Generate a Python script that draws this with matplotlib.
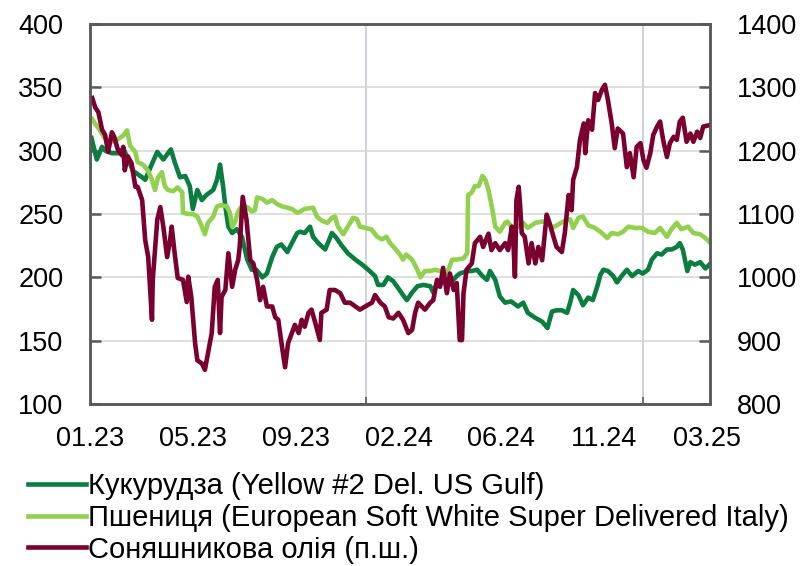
import numpy as np
import pandas as pd
import matplotlib
matplotlib.use("Agg")
import matplotlib.pyplot as plt


CORN_COLOR = "#0b7d41"
WHEAT_COLOR = "#92d050"
OIL_COLOR = "#7a0030"

corn_dates = [
    "2023-01-03", "2023-01-10", "2023-01-17", "2023-01-21", "2023-01-30", "2023-02-08", "2023-02-14",
    "2023-02-27", "2023-03-11", "2023-03-15", "2023-03-25", "2023-03-31", "2023-04-08", "2023-04-13",
    "2023-04-18", "2023-04-23", "2023-04-30", "2023-05-07", "2023-05-13", "2023-05-17", "2023-05-23",
    "2023-05-29", "2023-06-04", "2023-06-13", "2023-06-18", "2023-06-22", "2023-06-26", "2023-06-29",
    "2023-07-03", "2023-07-08", "2023-07-14", "2023-07-21", "2023-07-28", "2023-08-03", "2023-08-09",
    "2023-08-17", "2023-08-23", "2023-08-30", "2023-09-05", "2023-09-11", "2023-09-19", "2023-09-25",
    "2023-10-02", "2023-10-06", "2023-10-12", "2023-10-19", "2023-10-23", "2023-10-30", "2023-11-08",
    "2023-11-17", "2023-11-23", "2023-11-30", "2023-12-08", "2023-12-18", "2023-12-27", "2024-01-04",
    "2024-01-13", "2024-01-17", "2024-01-24", "2024-01-30", "2024-02-06", "2024-02-12", "2024-02-19",
    "2024-02-24", "2024-03-02", "2024-03-09", "2024-03-17", "2024-03-26", "2024-03-30", "2024-04-04",
    "2024-04-12", "2024-04-21", "2024-04-30", "2024-05-04", "2024-05-14", "2024-05-20", "2024-05-27",
    "2024-06-03", "2024-06-09", "2024-06-13", "2024-06-20", "2024-06-26", "2024-07-03", "2024-07-11",
    "2024-07-20", "2024-07-27", "2024-08-02", "2024-08-12", "2024-08-21", "2024-08-28", "2024-09-03",
    "2024-09-09", "2024-09-16", "2024-09-23", "2024-09-27", "2024-10-01", "2024-10-08", "2024-10-14",
    "2024-10-21", "2024-10-27", "2024-11-02", "2024-11-06", "2024-11-10", "2024-11-16", "2024-11-23",
    "2024-11-28", "2024-12-04", "2024-12-11", "2024-12-18", "2024-12-26", "2025-01-01", "2025-01-08",
    "2025-01-13", "2025-01-20", "2025-01-26", "2025-02-02", "2025-02-08", "2025-02-15", "2025-02-19",
    "2025-02-23", "2025-03-01", "2025-03-05", "2025-03-11", "2025-03-18", "2025-03-25", "2025-03-30",
]
corn_vals = [
    310, 293, 303, 300, 298, 298, 302,
    284, 279, 277, 291, 299, 293, 297,
    301, 291, 279, 280, 272, 254, 269,
    261, 265, 269, 277, 289, 272, 256,
    240, 235, 238, 232, 214, 206, 206,
    200, 203, 216, 224, 226, 220, 227,
    235, 236, 235, 240, 232, 227, 222,
    235, 231, 225, 219, 214, 210, 206,
    201, 194, 194, 200, 197, 192, 186,
    182, 188, 193, 194, 193, 188, 196,
    196, 195, 201, 203, 205, 205, 206,
    201, 198, 205, 198, 185, 180, 181,
    177, 180, 172, 168, 165, 160, 173,
    174, 174, 172, 180, 190, 186, 178,
    184, 182, 193, 202, 206, 205, 201,
    196, 201, 206, 201, 205, 203, 206,
    214, 219, 218, 222, 222, 224, 227,
    222, 205, 212, 210, 212, 207, 210,
]

wheat_dates = [
    "2023-01-04", "2023-01-08", "2023-01-12", "2023-01-17", "2023-01-25", "2023-02-07", "2023-02-14",
    "2023-02-19", "2023-02-23", "2023-03-02", "2023-03-05", "2023-03-12", "2023-03-19", "2023-03-24",
    "2023-03-28", "2023-04-01", "2023-04-06", "2023-04-10", "2023-04-14", "2023-04-21", "2023-04-27",
    "2023-05-03", "2023-05-04", "2023-05-11", "2023-05-17", "2023-05-23", "2023-05-29", "2023-06-02",
    "2023-06-06", "2023-06-13", "2023-06-18", "2023-06-24", "2023-07-01", "2023-07-05", "2023-07-08",
    "2023-07-12", "2023-07-16", "2023-07-22", "2023-07-29", "2023-08-03", "2023-08-07", "2023-08-10",
    "2023-08-17", "2023-08-23", "2023-08-30", "2023-09-05", "2023-09-12", "2023-09-19", "2023-09-25",
    "2023-10-02", "2023-10-06", "2023-10-12", "2023-10-23", "2023-10-28", "2023-11-03", "2023-11-11",
    "2023-11-17", "2023-11-21", "2023-11-25", "2023-12-02", "2023-12-08", "2023-12-15", "2023-12-20",
    "2023-12-24", "2023-12-31", "2024-01-08", "2024-01-16", "2024-01-22", "2024-01-28", "2024-02-02",
    "2024-02-08", "2024-02-15", "2024-02-19", "2024-02-23", "2024-03-02", "2024-03-09", "2024-03-13",
    "2024-03-19", "2024-03-26", "2024-04-01", "2024-04-08", "2024-04-17", "2024-04-24", "2024-04-29",
    "2024-05-09", "2024-05-14", "2024-05-15", "2024-05-20", "2024-05-24", "2024-05-29", "2024-06-03",
    "2024-06-07", "2024-06-11", "2024-06-16", "2024-06-20", "2024-06-26", "2024-07-03", "2024-07-06",
    "2024-07-14", "2024-07-20", "2024-07-27", "2024-08-02", "2024-08-12", "2024-08-21", "2024-08-28",
    "2024-09-03", "2024-09-09", "2024-09-18", "2024-09-27", "2024-10-01", "2024-10-08", "2024-10-14",
    "2024-10-21", "2024-10-30", "2024-11-08", "2024-11-15", "2024-11-21", "2024-11-29", "2024-12-06",
    "2024-12-13", "2024-12-22", "2024-12-31", "2025-01-08", "2025-01-17", "2025-01-24", "2025-02-02",
    "2025-02-08", "2025-02-15", "2025-02-21", "2025-03-02", "2025-03-09", "2025-03-18", "2025-03-25",
    "2025-03-30",
]
wheat_vals = [
    325, 321, 318, 313, 306, 309, 312,
    316, 304, 299, 291, 289, 284, 277,
    269, 279, 283, 272, 269, 268, 271,
    267, 251, 250, 250, 248, 240, 234,
    243, 248, 256, 257, 256, 251, 240,
    244, 252, 257, 255, 252, 253, 263,
    262, 259, 261, 258, 256, 255, 254,
    251, 252, 254, 255, 248, 245, 243,
    247, 248, 240, 234, 240, 247, 246,
    240, 239, 238, 232, 230, 232, 227,
    223, 218, 214, 218, 214, 206, 200,
    205, 205, 206, 205, 203, 214, 214,
    215, 219, 265, 267, 272, 272, 280,
    277, 269, 254, 240, 236, 243, 244,
    238, 240, 243, 239, 243, 244, 244,
    239, 241, 244, 246, 239, 247, 248,
    241, 239, 235, 231, 235, 234, 236,
    240, 239, 239, 236, 235, 239, 232,
    238, 243, 238, 240, 235, 234, 231,
    228,
]

oil_dates = [
    "2023-01-04", "2023-01-08", "2023-01-12", "2023-01-17", "2023-01-21", "2023-01-25", "2023-01-30",
    "2023-02-02", "2023-02-07", "2023-02-12", "2023-02-14", "2023-02-16", "2023-02-20", "2023-02-25",
    "2023-03-02", "2023-03-05", "2023-03-11", "2023-03-15", "2023-03-19", "2023-03-24", "2023-03-25",
    "2023-03-31", "2023-04-04", "2023-04-08", "2023-04-13", "2023-04-17", "2023-04-19", "2023-04-23",
    "2023-04-27", "2023-05-04", "2023-05-09", "2023-05-11", "2023-05-15", "2023-05-20", "2023-05-23",
    "2023-05-29", "2023-06-02", "2023-06-06", "2023-06-11", "2023-06-15", "2023-06-19", "2023-06-22",
    "2023-06-24", "2023-06-29", "2023-07-03", "2023-07-08", "2023-07-12", "2023-07-16", "2023-07-18",
    "2023-07-22", "2023-07-27", "2023-08-01", "2023-08-05", "2023-08-10", "2023-08-14", "2023-08-18",
    "2023-08-23", "2023-08-30", "2023-09-03", "2023-09-07", "2023-09-12", "2023-09-16", "2023-09-20",
    "2023-09-25", "2023-09-29", "2023-10-04", "2023-10-08", "2023-10-12", "2023-10-17", "2023-10-21",
    "2023-10-26", "2023-11-01", "2023-11-03", "2023-11-10", "2023-11-14", "2023-11-21", "2023-11-28",
    "2023-12-04", "2023-12-11", "2023-12-18", "2023-12-24", "2023-12-31", "2024-01-09", "2024-01-13",
    "2024-01-20", "2024-01-26", "2024-01-31", "2024-02-06", "2024-02-13", "2024-02-19", "2024-02-26",
    "2024-03-02", "2024-03-06", "2024-03-10", "2024-03-15", "2024-03-19", "2024-03-26", "2024-03-30",
    "2024-04-04", "2024-04-08", "2024-04-12", "2024-04-17", "2024-04-21", "2024-04-26", "2024-04-30",
    "2024-05-04", "2024-05-07", "2024-05-09", "2024-05-13", "2024-05-20", "2024-05-24", "2024-05-31",
    "2024-06-04", "2024-06-11", "2024-06-15", "2024-06-20", "2024-06-26", "2024-07-03", "2024-07-07",
    "2024-07-12", "2024-07-14", "2024-07-16", "2024-07-18", "2024-07-21", "2024-07-23", "2024-07-25",
    "2024-07-29", "2024-08-03", "2024-08-07", "2024-08-12", "2024-08-16", "2024-08-21", "2024-08-25",
    "2024-08-27", "2024-08-31", "2024-09-05", "2024-09-09", "2024-09-16", "2024-09-20", "2024-09-25",
    "2024-09-29", "2024-10-01", "2024-10-06", "2024-10-10", "2024-10-15", "2024-10-17", "2024-10-21",
    "2024-10-26", "2024-10-30", "2024-11-03", "2024-11-08", "2024-11-12", "2024-11-16", "2024-11-21",
    "2024-11-25", "2024-11-29", "2024-12-06", "2024-12-11", "2024-12-15", "2024-12-20", "2024-12-24",
    "2024-12-29", "2025-01-02", "2025-01-06", "2025-01-11", "2025-01-15", "2025-01-20", "2025-01-24",
    "2025-01-28", "2025-02-02", "2025-02-06", "2025-02-11", "2025-02-15", "2025-02-19", "2025-02-23",
    "2025-02-28", "2025-03-05", "2025-03-09", "2025-03-14", "2025-03-18", "2025-03-22", "2025-03-29",
]
oil_vals = [
    1283, 1268, 1261, 1233, 1225, 1198, 1229,
    1222, 1201, 1193, 1206, 1169, 1191, 1180,
    1143, 1143, 1122, 1059, 1032, 933, 996,
    1091, 1111, 1080, 1032, 1059, 1080, 1038,
    999, 996, 961, 1001, 969, 896, 869,
    864, 854, 880, 912, 985, 996, 912,
    969, 980, 1038, 985, 1012, 1027, 1048,
    1127, 1091, 1027, 1022, 996, 964, 985,
    954, 954, 937, 933, 890, 858, 896,
    912, 925, 912, 933, 922, 944, 949,
    928, 901, 944, 949, 980, 980, 975,
    960, 960, 954, 949, 954, 960, 972,
    960, 954, 937, 935, 944, 933, 912,
    917, 944, 960, 954, 949, 960, 964,
    996, 985, 1015, 975, 1006, 980, 991,
    901, 901, 975, 1012, 1022, 1054, 1064,
    1048, 1069, 1043, 1054, 1043, 1054, 1043,
    1080, 1054, 1001, 1122, 1143, 1111, 1070,
    1064, 1022, 1054, 1022, 1048, 1027, 1075,
    1099, 1085, 1064, 1048, 1040, 1070, 1130,
    1106, 1154, 1174, 1217, 1243, 1196, 1248,
    1233, 1291, 1280, 1296, 1304, 1280, 1243,
    1204, 1235, 1227, 1174, 1196, 1158, 1206,
    1212, 1185, 1173, 1196, 1225, 1238, 1246,
    1217, 1190, 1212, 1222, 1217, 1246, 1252,
    1214, 1227, 1214, 1230, 1220, 1238, 1240,
]

labels = [
    "Кукурудза (Yellow #2 Del. US Gulf)",
    "Пшениця (European Soft White Super Delivered Italy)",
    "Соняшникова олія (п.ш.)",
]

X_START = pd.Timestamp("2023-01-01")
X_END = pd.Timestamp("2025-03-31")
LABEL_STEP_DAYS = 136


def main() -> None:
    plt.rcParams.update({"font.family": ["Liberation Sans", "DejaVu Sans"]})
    fig = plt.figure(figsize=(8.02, 5.66), dpi=100)
    ax = fig.add_axes([0.1122, 0.2862, 0.7731, 0.6714])
    ax2 = ax.twinx()

    spine_color = "#595959"
    for a in (ax, ax2):
        for side in ("left", "right", "top", "bottom"):
            a.spines[side].set_color(spine_color)
            a.spines[side].set_linewidth(1.8)

    lw = 3.3
    l1, = ax.plot(pd.to_datetime(corn_dates), corn_vals, color=CORN_COLOR, lw=lw,
                  solid_joinstyle="round", label=labels[0])
    l2, = ax.plot(pd.to_datetime(wheat_dates), wheat_vals, color=WHEAT_COLOR, lw=lw,
                  solid_joinstyle="round", label=labels[1])
    l3, = ax2.plot(pd.to_datetime(oil_dates), oil_vals, color=OIL_COLOR, lw=lw,
                   solid_joinstyle="round", label=labels[2])

    ax.set_xlim(X_START, X_END)
    ax.set_ylim(100, 400)
    ax2.set_ylim(800, 1400)
    ax.set_yticks(np.arange(100, 401, 50))
    ax2.set_yticks(np.arange(800, 1401, 100))

    # labels every 136 days, year boundaries as gridlines
    label_dates = [X_START + pd.Timedelta(days=LABEL_STEP_DAYS * i) for i in range(7)]
    ax.set_xticks(label_dates, labels=[d.strftime("%m.%y") for d in label_dates])
    ax.set_xticks([pd.Timestamp("2024-01-01"), pd.Timestamp("2025-01-01")], minor=True)
    ax.tick_params(axis="x", which="major", length=0, pad=15.5, labelsize=19.5)
    ax.tick_params(axis="x", which="minor", direction="in", length=5, color=spine_color, width=1.2)
    ax.grid(True, axis="x", which="minor", color="#c5cbd1", lw=1.2)
    ax.grid(True, axis="y", which="major", color="#d9d9d9", lw=1.2)

    ax.tick_params(axis="y", direction="in", length=8, width=1.8, color=spine_color, pad=19, labelsize=19.5)
    ax2.tick_params(axis="y", direction="in", length=8, width=1.8, color=spine_color, pad=19, labelsize=19.5)
    ax.set_axisbelow(True)

    fig.legend(
        handles=[l1, l2, l3],
        loc="upper left",
        bbox_to_anchor=(0.035, 0.166),
        frameon=False,
        fontsize=21,
        handlelength=2.0,
        handletextpad=0.05,
        labelspacing=0.13,
        borderpad=0,
        borderaxespad=0,
    )

    fig.savefig("out.png", dpi=100)


if __name__ == "__main__":
    main()
